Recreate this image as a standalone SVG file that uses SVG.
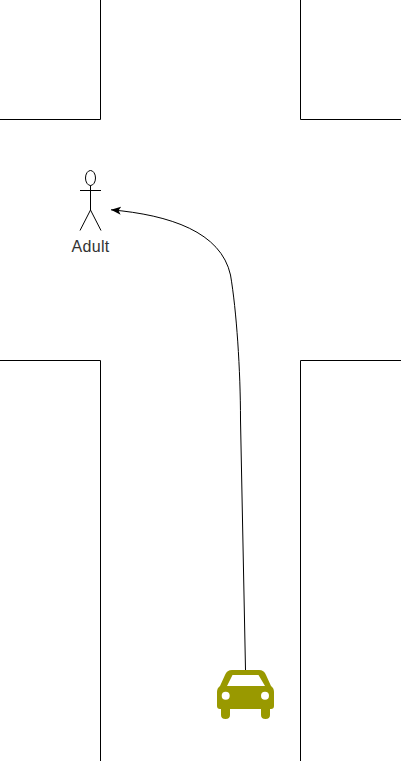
<svg xmlns="http://www.w3.org/2000/svg" width="403" height="763" viewBox="0 0 403 763">
<style>
.l{fill:none;stroke:#000;stroke-width:1}
text{font-family:"Liberation Sans",Arial,sans-serif;font-size:16px;letter-spacing:.3px;fill:#333}
</style>
<defs><marker id="a" markerUnits="userSpaceOnUse" markerWidth="12" markerHeight="10" refX="10" refY="5" orient="auto"><path d="M0 1 L10 5 L0 9 L2.500 5 Z" fill="#000"/></marker></defs>
<rect width="403" height="763" fill="#fff"/>
<g id="road" class="l">
<path class="l" d="M100.500 0V119.500H0"/>
<path class="l" d="M300.500 0V119.500H401"/>
<path class="l" d="M0 360.500H100.500V761"/>
<path class="l" d="M401 360.500H300.500V761"/>
</g>
<g id="connectors">
<path class="l" marker-end="url(#a)" d="M245.500 670 L240.500 420 C240.500 370 236.500 310 230.500 275 C221 232 170 215 111 209.800"/>
</g>
<g id="adult">
<ellipse class="l" cx="90.500" cy="178" rx="5" ry="7.500"/>
<path class="l" d="M90.500 185.500V210M80 190.500H101M80 230.500L90.500 210L101 230.500"/>
<text x="90.500" y="252" text-anchor="middle">Adult</text>
</g>
<g id="car">
<path fill="#999900" fill-rule="evenodd" d="M232 670H259Q264 670 266 675L271 686Q274 688 274 692V706Q274 709 271 709H270V715Q270 719 265.500 719Q261 719 261 715V709H230V715Q230 719 225.500 719Q221 719 221 715V709H220Q217 709 217 706V692Q217 688 220 686L225 675Q227 670 232 670ZM232.500 675L227 686H265L258.500 675Z"/>
<circle cx="225.700" cy="695.700" r="4" fill="#fff"/>
<circle cx="265" cy="695.700" r="4" fill="#fff"/>
</g>
</svg>
